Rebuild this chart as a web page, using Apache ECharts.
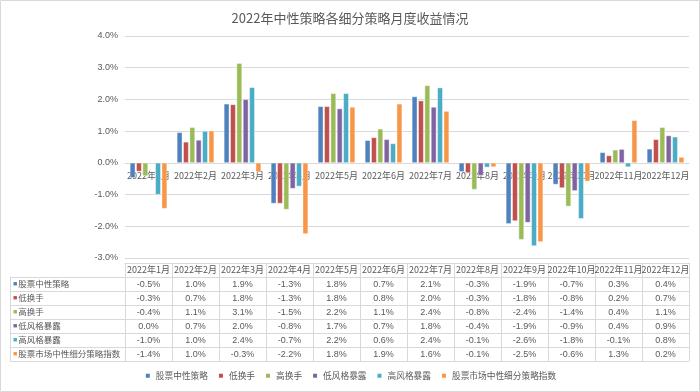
<!DOCTYPE html>
<html><head><meta charset="utf-8">
<script src="https://cdn.jsdelivr.net/npm/echarts@6/dist/echarts.min.js"></script>
<style>html,body{margin:0;padding:0;background:#fff}#c{width:700px;height:392px}</style>
</head><body><div id="c"></div>
<script>
const months = ['2022年1月','2022年2月','2022年3月','2022年4月','2022年5月','2022年6月','2022年7月','2022年8月','2022年9月','2022年10月','2022年11月','2022年12月'];
const seriesNames = ['股票中性策略','低换手','高换手','低风格暴露','高风格暴露','股票市场中性细分策略指数'];
const sNeutral = [-0.47,0.96,1.86,-1.28,1.78,0.71,2.09,-0.28,-1.92,-0.68,0.33,0.44];
const sLowTurn = [-0.27,0.66,1.84,-1.28,1.78,0.80,1.96,-0.31,-1.83,-0.79,0.23,0.74];
const sHighTurn = [-0.41,1.12,3.14,-1.47,2.19,1.07,2.44,-0.84,-2.42,-1.37,0.41,1.12];
const sLowStyle = [-0.02,0.72,2.00,-0.81,1.71,0.74,1.76,-0.40,-1.88,-0.88,0.43,0.86];
const sHighStyle = [-1.00,1.00,2.38,-0.74,2.19,0.61,2.37,-0.14,-2.62,-1.76,-0.13,0.82];
const sIndex = [-1.44,1.01,-0.28,-2.24,1.76,1.86,1.63,-0.13,-2.49,-0.58,1.34,0.18];
const yTicks = {min:-3, max:4, interval:1};
const colors = ['#4F81BD','#C0504D','#9BBB59','#8064A2','#4BACC6','#F79646'];

const allData = [sNeutral,sLowTurn,sHighTurn,sLowStyle,sHighStyle,sIndex];
const numFont = 'Liberation Sans, Arial, sans-serif';
const cjkFont = 'Noto Sans CJK SC, sans-serif';
const txt = '#595959', line = '#d9d9d9';
const W = 700, H = 392;
const gridLeft = 125, gridRight = 11, gridTop = 36, gridBottom = 134;
const rowH = 14, tableGap = 5;
const plotH = H - gridTop - gridBottom;
// distance from the plot's bottom edge up to the value 0, used to lift the category labels onto the zero line
const zeroLift = plotH * (0 - yTicks.min) / (yTicks.max - yTicks.min);

function fmt(v){ let s = (Math.round(v*10)/10).toFixed(1); if (s === '-0.0') s = '0.0'; return s + '%'; }

const xAxes = [{
  type:'category', data: months, gridIndex:0, position:'bottom', offset: -zeroLift,
  axisLine:{onZero:false, lineStyle:{color:line}},
  axisTick:{show:false},
  axisLabel:{interval:0, fontSize:9, color:txt, margin:8, fontFamily:cjkFont}
}];
// header row
xAxes.push({
  type:'category', data: months, gridIndex:0, position:'bottom', offset: tableGap,
  axisLine:{onZero:false, lineStyle:{color:line}},
  axisTick:{show:true, length:rowH, interval:0, lineStyle:{color:line}},
  axisLabel:{interval:0, fontSize:9, color:txt, margin:2, fontFamily:cjkFont}
});
allData.forEach((arr, k) => {
  xAxes.push({
    type:'category', data: months, gridIndex:0, position:'bottom', offset: tableGap + rowH*(k+1),
    axisLine:{onZero:false, lineStyle:{color:line}},
    axisTick:{show:true, length:rowH, interval:0, lineStyle:{color:line}},
    axisLabel:{interval:0, fontSize:9, color:txt, margin:3, fontFamily:numFont,
      formatter:(v, i) => fmt(arr[i])}
  });
});
xAxes.push({
  type:'category', data: months, gridIndex:0, position:'bottom', offset: tableGap + rowH*7,
  axisLine:{onZero:false, lineStyle:{color:line}},
  axisTick:{show:false}, axisLabel:{show:false}
});
// left column grid
xAxes.push({type:'value', gridIndex:1, show:false, min:0, max:1});

const rich = {t:{color:txt, fontSize:8.5, fontFamily:cjkFont}};
colors.forEach((c,i)=>{ rich['s'+i] = {color:c, fontSize:7, padding:[0,1,0,0]}; });

const option = {
  animation:false,
  title:{text:'2022年中性策略各细分策略月度收益情况', left:'center', top:7,
    textStyle:{fontSize:13, fontWeight:'normal', color:txt, fontFamily:cjkFont}},
  color: colors,
  legend:{bottom:7, left:'center', itemWidth:6, itemHeight:6, itemGap:9, icon:'rect',
    textStyle:{fontSize:8.7, color:txt, fontFamily:cjkFont}, data: seriesNames},
  grid:[
    {left:gridLeft, right:gridRight, top:gridTop, bottom:gridBottom},
    {left:10, width:gridLeft-10, top:H-gridBottom+tableGap+rowH, height:rowH*6}
  ],
  xAxis: xAxes,
  yAxis:[
    {type:'value', gridIndex:0, min:yTicks.min, max:yTicks.max, interval:yTicks.interval,
     axisLabel:{fontSize:9, color:txt, margin:7, fontFamily:numFont, formatter:v=>v.toFixed(1)+'%'},
     axisLine:{show:false, onZero:false}, axisTick:{show:false},
     splitLine:{lineStyle:{color:line}}},
    {type:'category', gridIndex:1, data: seriesNames, inverse:true,
     axisLine:{show:true, onZero:false, lineStyle:{color:line}}, axisTick:{show:false},
     splitLine:{show:true, interval:0, lineStyle:{color:line}},
     axisLabel:{inside:true, interval:0, margin:3, formatter:(v,i)=>'{s'+i+'|■}{t|'+v+'}', rich: rich}}
  ],
  graphic:[{type:'rect', shape:{x:0.5,y:0.5,width:W-1,height:H-1}, style:{fill:'none', stroke:line, lineWidth:1}, silent:true}],
  series: allData.map((arr,i)=>({
    name: seriesNames[i], type:'bar', xAxisIndex:0, yAxisIndex:0, data: arr,
    barCategoryGap:'21%', barGap:'20%',
    itemStyle:{color:colors[i], borderColor:'#fff', borderWidth:0.4}
  }))
};
const chart = echarts.init(document.getElementById('c'), null, {renderer:'canvas'});
chart.setOption(option);
</script></body></html>
